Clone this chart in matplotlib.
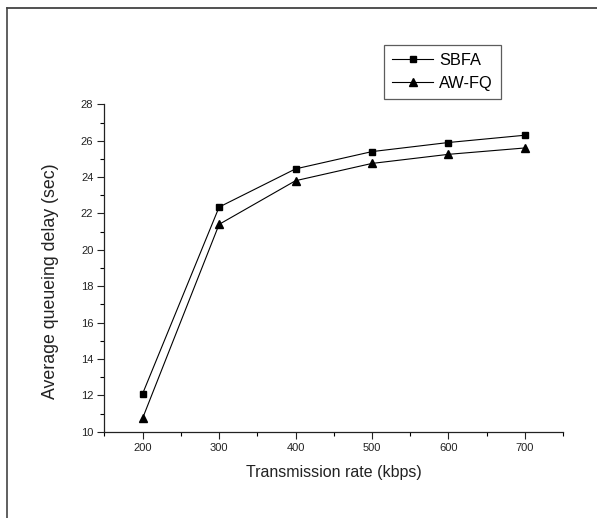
import numpy as np
import matplotlib.pyplot as plt
from matplotlib.lines import Line2D
from matplotlib.ticker import MultipleLocator

plt.rcParams['font.family'] = ['Liberation Sans', 'DejaVu Sans']

# Data
rate = [200, 300, 400, 500, 600, 700]
sbfa = [12.1, 22.35, 24.45, 25.4, 25.9, 26.3]
awfq = [10.75, 21.4, 23.8, 24.75, 25.25, 25.6]

fig = plt.figure(figsize=(5.97, 5.18), dpi=100)
ax = fig.add_axes([0.175, 0.1666, 0.768, 0.632])

ax.plot(rate, sbfa, color='black', lw=0.8, marker='s', ms=4.8, label='SBFA')
ax.plot(rate, awfq, color='black', lw=0.8, marker='^', ms=6, label='AW-FQ')

ax.set_xlim(150, 750)
ax.set_ylim(10, 28)
ax.set_xticks(rate)
ax.xaxis.set_minor_locator(MultipleLocator(50))
ax.yaxis.set_major_locator(MultipleLocator(2))
ax.yaxis.set_minor_locator(MultipleLocator(1))
ax.tick_params(which='major', length=5, width=0.8, labelsize=8, colors='#222222', pad=3)
ax.tick_params(which='minor', length=3, width=0.8)

for s in ['top', 'right']:
    ax.spines[s].set_visible(False)
for s in ['left', 'bottom']:
    ax.spines[s].set_linewidth(0.9)
    ax.spines[s].set_color('#222222')

ax.set_xlabel('Transmission rate (kbps)', fontsize=11.5, color='#222222', labelpad=9)
ax.set_ylabel('Average queueing delay (sec)', fontsize=12.8, color='#222222')
ax.yaxis.set_label_coords(-0.099, 0.459)

leg = ax.legend(loc='upper left', bbox_to_anchor=(384 / 597, 1 - 45 / 518),
                bbox_transform=fig.transFigure, fontsize=11.8, frameon=True,
                fancybox=False, edgecolor='#333333', handlelength=2.5,
                handletextpad=0.35, labelspacing=0.45, borderpad=0.5,
                borderaxespad=0)
leg.get_frame().set_linewidth(0.9)

# outer frame (top and left edges visible)
fig.add_artist(Line2D([7 / 597, 1], [1 - 8 / 518, 1 - 8 / 518], transform=fig.transFigure,
                      color='#333333', lw=1.2))
fig.add_artist(Line2D([7 / 597, 7 / 597], [0, 1 - 8 / 518], transform=fig.transFigure,
                      color='#444444', lw=1.2))

fig.savefig('out.png', dpi=100)
